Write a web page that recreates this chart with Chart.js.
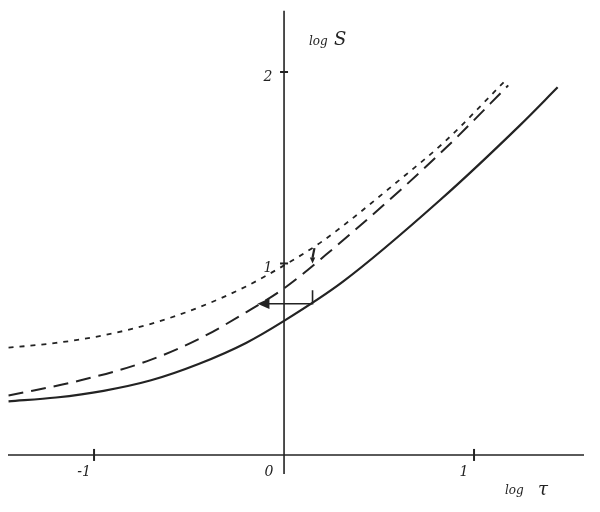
<!DOCTYPE html>
<html>
<head>
<meta charset="utf-8">
<script src="https://cdn.jsdelivr.net/npm/chart.js@4.4.1/dist/chart.umd.min.js"></script>
<style>
    html, body { margin: 0; padding: 0; background: #fff; }
    #wrap { width: 600px; height: 512px; }
</style>
</head>
<body>
<div id="wrap"><canvas id="myChart" width="600" height="512"></canvas></div>
<script>
// CURVE DATA (log tau, log S)
const tauSolid = [-1.45, -1.2, -0.95, -0.7, -0.45, -0.2, 0, 0.31, 0.82, 1.24, 1.44];
const sSolid = [0.28, 0.30, 0.335, 0.39, 0.475, 0.585, 0.70, 0.905, 1.33, 1.72, 1.92];

const tauDashed = [-1.45, -1.07, -0.72, -0.44, -0.2, 0, 0.22, 0.62, 0.9, 1.18];
const sDashed = [0.31, 0.39, 0.49, 0.61, 0.745, 0.87, 1.045, 1.39, 1.65, 1.93];

const tauDotted = [-1.45, -1.2, -0.95, -0.7, -0.45, -0.2, 0, 0.2, 0.6, 0.85, 1.16];
const sDotted = [0.56, 0.585, 0.625, 0.685, 0.77, 0.88, 0.99, 1.115, 1.43, 1.64, 1.95];

// AXIS TICKS
const xTicks = [-1, 0, 1];
const xTickLabels = ["-1", "0", "1"];
const yTicks = [1, 2];
const yTickLabels = ["1", "2"];
// CURVE DATA

const ink = "#232323";

function toPoints(xs, ys) {
    return xs.map(function (x, i) {
        return { x: x, y: ys[i] };
    });
}

function arrowHead(ctx, x, y, dx, dy, size) {
    const len = Math.sqrt(dx * dx + dy * dy);
    const ux = dx / len, uy = dy / len;
    ctx.beginPath();
    ctx.moveTo(x, y);
    ctx.lineTo(x - ux * size - uy * size * 0.45, y - uy * size + ux * size * 0.45);
    ctx.lineTo(x - ux * size + uy * size * 0.45, y - uy * size - ux * size * 0.45);
    ctx.closePath();
    ctx.fill();
}

// AXES, TICKS, LABELS AND ARROWS
const axesPlugin = {
    id: "axesPlugin",
    afterDatasetsDraw: function (chart) {
        const ctx = chart.ctx;
        const xs = chart.scales.x;
        const ys = chart.scales.y;
        const px = function (v) { return xs.getPixelForValue(v); };
        const py = function (v) { return ys.getPixelForValue(v); };

        ctx.save();
        ctx.strokeStyle = ink;
        ctx.fillStyle = ink;
        ctx.lineWidth = 1.6;
        ctx.setLineDash([]);

        // horizontal axis
        ctx.beginPath();
        ctx.moveTo(px(-1.453), py(0));
        ctx.lineTo(px(1.579), py(0));
        ctx.stroke();
        // vertical axis
        ctx.beginPath();
        ctx.moveTo(px(0), py(-0.10));
        ctx.lineTo(px(0), py(2.32));
        ctx.stroke();

        // ticks
        ctx.lineWidth = 2;
        xTicks.forEach(function (t) {
            if (t === 0) return;
            ctx.beginPath();
            ctx.moveTo(px(t), py(0) - 6);
            ctx.lineTo(px(t), py(0) + 6);
            ctx.stroke();
        });
        yTicks.forEach(function (t) {
            ctx.beginPath();
            ctx.moveTo(px(0) - 4, py(t));
            ctx.lineTo(px(0) + 4, py(t));
            ctx.stroke();
        });

        // tick labels
        ctx.font = "italic 14px 'DejaVu Serif'";
        ctx.textAlign = "center";
        ctx.textBaseline = "middle";
        xTicks.forEach(function (t, i) {
            const off = t === 0 ? -15 : -10;
            ctx.fillText(xTickLabels[i], px(t) + off, py(0) + 17);
        });
        yTicks.forEach(function (t, i) {
            ctx.fillText(yTickLabels[i], px(0) - 16, py(t) + 5);
        });

        // axis titles
        ctx.textAlign = "left";
        ctx.font = "italic 12px 'DejaVu Serif'";
        ctx.fillText("log", 309, 42);
        ctx.font = "italic 18px 'DejaVu Serif'";
        ctx.fillText("S", 334, 40);
        ctx.font = "italic 12px 'DejaVu Serif'";
        ctx.fillText("log", 505, 491);
        ctx.font = "italic 18px 'DejaVu Serif'";
        ctx.fillText("\u03C4", 538, 490);

        // horizontal arrow from solid curve to the log S axis
        ctx.lineWidth = 1.6;
        ctx.beginPath();
        ctx.moveTo(px(0.15), py(0.86));
        ctx.lineTo(px(0.15), py(0.79));
        ctx.lineTo(px(-0.10), py(0.79));
        ctx.stroke();
        arrowHead(ctx, px(-0.14), py(0.79), -1, 0, 12);

        // small down arrow to dotted curve
        ctx.lineWidth = 2.2;
        ctx.beginPath();
        ctx.moveTo(px(0.16), py(1.08));
        ctx.lineTo(px(0.15), py(1.03));
        ctx.stroke();
        arrowHead(ctx, px(0.15), py(1.0), 0, 1, 6);
        ctx.restore();
    },
};
// AXES, TICKS, LABELS AND ARROWS

const ctx = document.getElementById("myChart").getContext("2d");
new Chart(ctx, {
    type: "scatter",
    data: {
        datasets: [
            {
                label: "solid",
                data: toPoints(tauSolid, sSolid),
                showLine: true,
                borderColor: ink,
                borderWidth: 2.2,
                pointRadius: 0,
                cubicInterpolationMode: "monotone",
            },
            {
                label: "dashed",
                data: toPoints(tauDashed, sDashed),
                showLine: true,
                borderColor: ink,
                borderWidth: 2,
                borderDash: [15, 8],
                pointRadius: 0,
                cubicInterpolationMode: "monotone",
            },
            {
                label: "dotted",
                data: toPoints(tauDotted, sDotted),
                showLine: true,
                borderColor: ink,
                borderWidth: 1.8,
                borderDash: [5, 6],
                pointRadius: 0,
                cubicInterpolationMode: "monotone",
            },
        ],
    },
    options: {
        responsive: false,
        animation: false,
        layout: { padding: 0 },
        plugins: {
            legend: { display: false },
            tooltip: { enabled: false },
        },
        scales: {
            x: { type: "linear", min: -1.495, max: 1.663, display: false },
            y: { type: "linear", min: -0.298, max: 2.376, display: false },
        },
    },
    plugins: [axesPlugin],
});
</script>
</body>
</html>
